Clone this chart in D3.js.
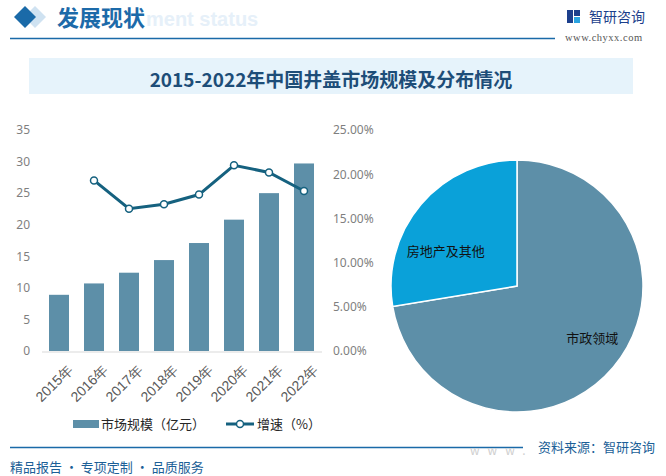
<!DOCTYPE html>
<html><head><meta charset="utf-8">
<script src="https://cdn.jsdelivr.net/npm/d3@7"></script>
<style>
body{margin:0;background:#fff;}
svg{display:block;font-family:"Noto Sans CJK SC","Microsoft YaHei",sans-serif;}
</style></head>
<body><svg id="c" width="666" height="476"></svg>
<script>
const years = ["2015年","2016年","2017年","2018年","2019年","2020年","2021年","2022年"];
const marketSize = [8.9, 10.7, 12.4, 14.4, 17.1, 20.8, 25.0, 29.7];
const growth = [null, 0.193, 0.161, 0.166, 0.177, 0.210, 0.202, 0.181];
const leftTicks = [0,5,10,15,20,25,30,35];
const rightTicks = [0,0.05,0.10,0.15,0.20,0.25];
const pieLabels = ["市政领域","房地产及其他"];
const pieValues = [72.4, 27.6];
const legendLabels = ["市场规模（亿元）","增速（%）"];

const barColor = "#5d8fa8", lineColor = "#15617f", pieBlue = "#0aa1d9";
const svg = d3.select("#c");
svg.append("rect").attr("width",666).attr("height",476).attr("fill","#fff");

// Header
svg.append("text").attr("x",146).attr("y",26).attr("font-family","Arial,sans-serif").attr("font-weight","bold")
  .attr("font-size",20).attr("fill","#e6f0f9").text("ment status");
svg.append("path").attr("d","M35,6 L46,17 L35,28 L24,17Z").attr("fill","#cfe2f1");
svg.append("path").attr("d","M25,6 L36,17 L25,28 L14,17Z").attr("fill","#1a6aa8");
svg.append("text").attr("x",57).attr("y",26).attr("font-size",22).attr("font-weight","bold")
  .attr("fill","#1c6aa9").text("发展现状");
svg.append("line").attr("x1",10).attr("x2",555).attr("y1",38.5).attr("y2",38.5).attr("stroke","#1a6aa8").attr("stroke-width",1.5);
// logo
const lg = svg.append("g").attr("transform","translate(567,10)");
lg.append("rect").attr("x",0).attr("y",0).attr("width",6).attr("height",13).attr("fill","#1c3f8c");
lg.append("rect").attr("x",7).attr("y",0).attr("width",6).attr("height",6).attr("fill","#1c3f8c");
lg.append("rect").attr("x",7).attr("y",7).attr("width",6).attr("height",6).attr("fill","#2aa3e0");
svg.append("text").attr("x",589).attr("y",22).attr("font-size",14).attr("fill","#1c3f8c").text("智研咨询");
svg.append("text").attr("x",565).attr("y",41).attr("font-size",10.5).attr("font-family","'Liberation Serif',serif")
  .attr("fill","#555").attr("letter-spacing",0.5).text("www.chyxx.com");

// Title banner
svg.append("rect").attr("x",29).attr("y",58).attr("width",604).attr("height",36).attr("fill","#e6f3fb");
svg.append("text").attr("x",331).attr("y",87).attr("text-anchor","middle").attr("font-size",19)
  .attr("font-weight","bold").attr("fill","#1d4d78").text("2015-2022年中国井盖市场规模及分布情况");

// Bar + line chart
const x = d3.scaleBand().domain(years).range([41.5,321.5]).paddingInner(0.4286).paddingOuter(0.2143);
const yL = d3.scaleLinear().domain([0,35]).range([351,130]);
const yR = d3.scaleLinear().domain([0,0.25]).range([351,130]);

const gL = svg.append("g").attr("transform","translate(30,0)")
  .call(d3.axisLeft(yL).tickValues(leftTicks).tickSize(0).tickPadding(0));
gL.select(".domain").remove();
gL.selectAll("text").attr("font-size",12).attr("fill","#7f7f7f").attr("font-family","'Noto Sans',sans-serif");

const gR = svg.append("g").attr("transform","translate(333,0)")
  .call(d3.axisRight(yR).tickValues(rightTicks).tickSize(0).tickPadding(0).tickFormat(d3.format(".2%")));
gR.select(".domain").remove();
gR.selectAll("text").attr("font-size",12).attr("fill","#7f7f7f").attr("font-family","'Noto Sans',sans-serif");

svg.append("g").selectAll("rect").data(marketSize).join("rect")
  .attr("x",(d,i)=>x(years[i])).attr("width",x.bandwidth())
  .attr("y",d=>yL(d)).attr("height",d=>yL(0)-yL(d)).attr("fill",barColor);

const gx = svg.append("g").attr("transform","translate(0,351.5)")
  .call(d3.axisBottom(x).tickSize(0).tickPadding(0));
gx.select(".domain").attr("stroke","#d9d9d9");
gx.selectAll("text").attr("font-size",14).attr("fill","#595959")
  .attr("text-anchor","end").attr("transform","translate(7,12) rotate(-45)").attr("dy","0.75em").attr("dx","0");

const pts = growth.map((g,i)=>({g,i})).filter(d=>d.g!==null);
const line = d3.line().x(d=>x(years[d.i])+x.bandwidth()/2).y(d=>yR(d.g));
svg.append("path").datum(pts).attr("d",line).attr("fill","none").attr("stroke",lineColor).attr("stroke-width",3);
svg.append("g").selectAll("circle").data(pts).join("circle")
  .attr("cx",d=>x(years[d.i])+x.bandwidth()/2).attr("cy",d=>yR(d.g)).attr("r",3.5)
  .attr("fill","#fff").attr("stroke",lineColor).attr("stroke-width",1.5);

// legend
const leg = svg.append("g");
leg.append("rect").attr("x",73).attr("y",420).attr("width",26).attr("height",8).attr("fill",barColor);
leg.append("text").attr("x",101).attr("y",428.5).attr("font-size",13).attr("fill","#262626").text(legendLabels[0]);
leg.append("line").attr("x1",226).attr("x2",254).attr("y1",424).attr("y2",424).attr("stroke",lineColor).attr("stroke-width",3);
leg.append("circle").attr("cx",240).attr("cy",424).attr("r",3.5).attr("fill","#fff").attr("stroke",lineColor).attr("stroke-width",1.5);
leg.append("text").attr("x",257).attr("y",428.5).attr("font-size",13).attr("fill","#262626").text(legendLabels[1]);

// Pie
const cx = 517, cy = 286, R = 126;
const pie = d3.pie().sort(null).value(d=>d)(pieValues);
const arc = d3.arc().innerRadius(0).outerRadius(R);
const pg = svg.append("g").attr("transform",`translate(${cx},${cy})`);
pg.selectAll("path").data(pie).join("path").attr("d",arc)
  .attr("fill",(d,i)=>i===0?barColor:pieBlue).attr("stroke","#fff").attr("stroke-width",1.5);
const labelArc = d3.arc().innerRadius(R*0.72).outerRadius(R*0.72);
const offs = [[6,-6],[-2,24]];
pg.selectAll("text").data(pie).join("text")
  .attr("transform",(d,i)=>{const c=labelArc.centroid(d);return `translate(${c[0]+offs[i][0]},${c[1]+offs[i][1]})`;})
  .attr("text-anchor","middle").attr("dy","0.35em").attr("font-size",13).attr("fill","#111")
  .text((d,i)=>pieLabels[i]);

// Footer
svg.append("line").attr("x1",10).attr("x2",523).attr("y1",447.5).attr("y2",447.5).attr("stroke","#1a6aa8").attr("stroke-width",1.5);
svg.append("text").attr("x",470).attr("y",455).attr("font-size",12).attr("fill","#cfcfcf").attr("letter-spacing",8).text("www.");
svg.append("text").attr("x",655).attr("y",452).attr("text-anchor","end").attr("font-size",13).attr("fill","#1c5f97").text("资料来源：智研咨询");
svg.append("text").attr("x",10).attr("y",472).attr("font-size",13).attr("fill","#1c5f97").text("精品报告 · 专项定制 · 品质服务");
</script></body></html>
